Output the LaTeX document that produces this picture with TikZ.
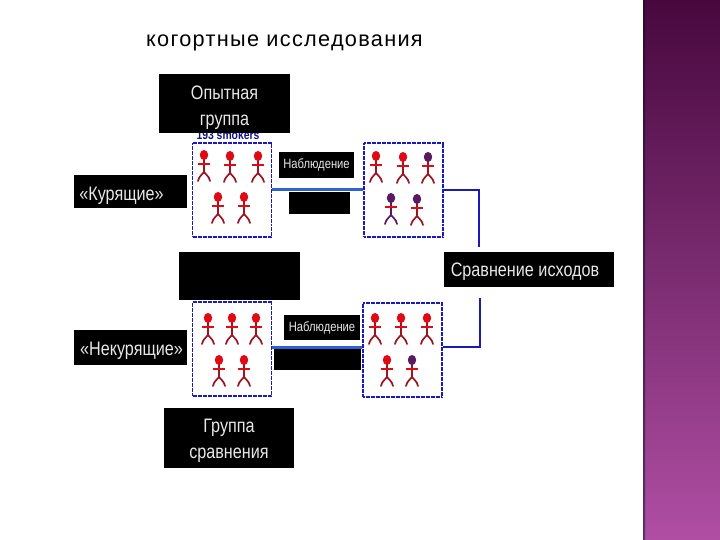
\documentclass[tikz,border=0pt]{standalone}
\usepackage{fontspec}
\setmainfont{Liberation Sans}
\newfontfamily\narrowf[FakeStretch=0.83]{Liberation Sans}
\usetikzlibrary{calc}
\definecolor{figred}{HTML}{E00A14}
\definecolor{figbrown}{HTML}{9C1420}
\definecolor{figdark}{HTML}{5A1A60}
\definecolor{linkblue}{HTML}{2F62D0}
\definecolor{boxblue}{HTML}{1A1AB8}
\definecolor{boxtext}{HTML}{E8E8E8}
\newcommand{\nudged}[3]{\hspace*{#1}\raisebox{#2}[\height][\depth]{#3}\hspace*{-#1}}
\tikzset{
  blackbox/.style={fill=black,draw=none,text=boxtext,inner sep=0pt,align=center,font=\narrowf\fontsize{19.5}{25.5}\selectfont},
  smallblack/.style={blackbox,font=\narrowf\fontsize{13.5}{15}\selectfont},
  groupbox/.style={draw=boxblue,line width=1.8pt,dash pattern=on 2pt off 0.5pt,fill=white,minimum width=79,minimum height=94,inner sep=0pt},
  link/.style={draw=boxblue,line width=1.8pt},
  thicklink/.style={draw=linkblue,line width=3pt},
  pics/man/.style n args={3}{code={
    \draw[#2,line width=1.7pt] (0,4) -- (0,17);
    \draw[#3,line width=1.7pt,line cap=round] (0,17) .. controls (-2,20) and (-5,21) .. (-6,26);
    \draw[#3,line width=1.7pt,line cap=round] (0,17) .. controls (2,20) and (5,21) .. (6,26);
    \draw[figred,line width=2pt] (-6,9) -- (6,9);
    \fill[#1] (0,0) ellipse (4.2 and 5);
  }}
}
\newcommand{\manred}[1]{\pic at (#1) {man={figred}{figbrown}{figbrown}};}
\newcommand{\mandark}[1]{\pic at (#1) {man={figdark}{figdark}{figdark}};}
\newcommand{\manmix}[1]{\pic at (#1) {man={figdark}{figbrown}{figbrown}};}
\begin{document}
\begin{tikzpicture}[x=1pt,y=-1pt]
\useasboundingbox (0,0) rectangle (720,540);
\fill[white] (0,0) rectangle (720,540);
% sidebar
\fill[top color={rgb,255:red,72;green,8;blue,62},bottom color={rgb,255:red,176;green,78;blue,164},middle color={rgb,255:red,122;green,44;blue,112}] (645,0) rectangle (720,540);
\fill[top color={rgb,255:red,40;green,10;blue,50},bottom color={rgb,255:red,90;green,50;blue,100}] (643,0) rectangle (645,540);
% title
\node[anchor=base west,inner sep=0pt,font=\fontsize{21.7}{24}\selectfont] (title) at (146,47) {\addfontfeatures{LetterSpace=6}когортные исследования};
% group frames
\node[groupbox] (tl) at (232,190) {};
\node[groupbox] (tr) at (403.5,190) {};
\node[groupbox] (bl) at (232,349) {};
\node[groupbox] (br) at (402.5,350) {};
% half-hidden caption
\node[anchor=base,inner sep=0pt,text=boxblue!70!black,font=\narrowf\bfseries\fontsize{12.5}{13}\selectfont] (cap) at (228,139.5) {193 smokers};
% labelled and blank blocks
\node[blackbox,minimum width=131,minimum height=59] (exp) at (224.5,103.5) {\nudged{0pt}{-4pt}{Опытная}\\\nudged{0pt}{-4pt}{группа}};
\node[blackbox,minimum width=113,minimum height=33] (smk) at (130.5,191.5) {\nudged{-9pt}{-4pt}{«Курящие»}};
\node[smallblack,minimum width=75,minimum height=26] (obs1) at (316.5,165) {Наблюдение};
\node[blackbox,minimum width=61,minimum height=22] (blk1) at (319.5,203) {};
\node[blackbox,minimum width=121,minimum height=48] (blk2) at (239.5,276) {};
\node[blackbox,minimum width=170,minimum height=35] (cmp) at (529,269.5) {\nudged{-4pt}{-2pt}{Сравнение исходов}};
\node[blackbox,minimum width=113,minimum height=35] (nsm) at (130.5,347.5) {\nudged{1pt}{-3pt}{«Некурящие»}};
\node[smallblack,minimum width=76,minimum height=25] (obs2) at (322,327.5) {Наблюдение};
\node[blackbox,minimum width=87,minimum height=22] (blk3) at (317.5,359) {};
\node[blackbox,minimum width=130,minimum height=60] (ctl) at (229,438) {\nudged{0pt}{-3pt}{Группа}\\\nudged{0pt}{-3pt}{сравнения}};
% connectors
\coordinate (endtop) at (479,247);
\coordinate (endbot) at (480,298);
\draw[thicklink] (tl.east) -- (tr.west);
\draw[thicklink] ($(bl.east)+(0,-2)$) -- ($(br.west)+(0,-3)$);
\draw[link] (tr.east) -| (endtop);
\draw[link] ($(br.east)+(0,-3)$) -| (endbot);
% figures
\manred{204,155}\manred{230,156}\manred{258,156}\manred{218,197}\manred{244,197}
\manred{376,156}\manred{403,157}\manmix{428,157}\mandark{391,198}\manmix{417,199}
\manred{208,318}\manred{232,318}\manred{256,318}\manred{219,360}\manred{244,360}
\manred{375,318}\manred{401,318}\manred{427,318}\manred{387,360}\manmix{412,360}
\end{tikzpicture}
\end{document}
